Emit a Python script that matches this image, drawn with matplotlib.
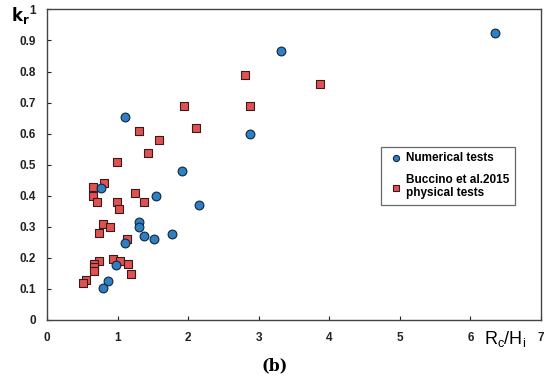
import matplotlib
matplotlib.use('Agg')
import matplotlib.pyplot as plt
import numpy as np

# Numerical tests (circles)
num_x = [6.35, 3.31, 1.10, 2.87, 1.91, 0.76, 1.55, 2.15, 1.30, 1.31, 1.37, 1.51, 1.77, 1.11, 0.98, 0.87, 0.80]
num_y = [0.923, 0.866, 0.653, 0.599, 0.481, 0.424, 0.398, 0.369, 0.317, 0.298, 0.270, 0.261, 0.277, 0.247, 0.177, 0.127, 0.102]

# Buccino et al. 2015 physical tests (squares)
buc_x = [2.81, 1.94, 2.87, 3.87, 2.11, 1.30, 1.59, 1.43, 0.99, 0.81, 0.65, 0.65, 1.24,
         0.71, 0.99, 1.02, 1.37, 0.80, 0.89, 0.73, 1.14, 0.93, 1.03, 1.15, 1.19,
         0.73, 0.67, 0.67, 0.66, 0.55, 0.51]
buc_y = [0.790, 0.690, 0.690, 0.760, 0.619, 0.610, 0.580, 0.539, 0.509, 0.440, 0.429, 0.399, 0.410,
         0.379, 0.379, 0.358, 0.379, 0.309, 0.300, 0.279, 0.260, 0.197, 0.189, 0.180, 0.149,
         0.189, 0.179, 0.170, 0.159, 0.130, 0.120]

xticks = [0, 1, 2, 3, 4, 5, 6, 7]
yticks = [0, 0.1, 0.2, 0.3, 0.4, 0.5, 0.6, 0.7, 0.8, 0.9, 1]
ytick_labels = ['0', '0.1', '0.2', '0.3', '0.4', '0.5', '0.6', '0.7', '0.8', '0.9', '1']

plt.rcParams['font.family'] = ['Liberation Sans', 'DejaVu Sans']

fig = plt.figure(figsize=(5.5, 3.83), dpi=100)
ax = fig.add_axes([0.0855, 0.1645, 0.898, 0.811])

ax.scatter(buc_x, buc_y, marker='s', s=34, color='#E05252', edgecolors='#3a1a1a',
           linewidths=0.8, zorder=3, label='Buccino et al.2015\nphysical tests')
ax.scatter(num_x, num_y, marker='o', s=40, color='#2E7FC4', edgecolors='#10263a',
           linewidths=0.8, zorder=4, label='Numerical tests')

ax.set_xlim(0, 7)
ax.set_ylim(0, 1)
ax.set_xticks(xticks)
ax.set_yticks(yticks)
ax.set_yticklabels(ytick_labels)
ax.tick_params(direction='in', length=3, width=0.8, labelsize=8.5, colors='#222222')
ax.tick_params(axis='x', pad=9)
ax.tick_params(axis='y', pad=8)
for lab in ax.get_xticklabels() + ax.get_yticklabels():
    lab.set_fontweight('bold')
for sp in ax.spines.values():
    sp.set_color('#444444')
    sp.set_linewidth(1.0)

# axis labels placed like the original
fig.text(20 / 550, 1 - 15 / 383, r'$\mathbf{k_r}$', fontsize=12, ha='center', va='center')
fig.text(505 / 550, 1 - 339 / 383, r'$\mathregular{R_c/H_i}$', fontsize=13, ha='center', va='center')
fig.text(275 / 550, 1 - 366 / 383, '(b)', fontsize=11.5, family=['DejaVu Serif'],
         fontweight='bold', ha='center', va='center')

handles, labels = ax.get_legend_handles_labels()
leg = ax.legend(handles[::-1], labels[::-1], loc='upper left',
                bbox_to_anchor=((381 - 47) / 494, (320 - 147) / 310.5),
                borderaxespad=0, frameon=True, fancybox=False, edgecolor='#444444',
                prop={'size': 8.5, 'weight': 'bold'}, handletextpad=0.1,
                handlelength=1.6, labelspacing=0.8, borderpad=0.45, markerscale=0.7)
leg.get_frame().set_linewidth(0.9)

fig.savefig('out.png', dpi=100)
